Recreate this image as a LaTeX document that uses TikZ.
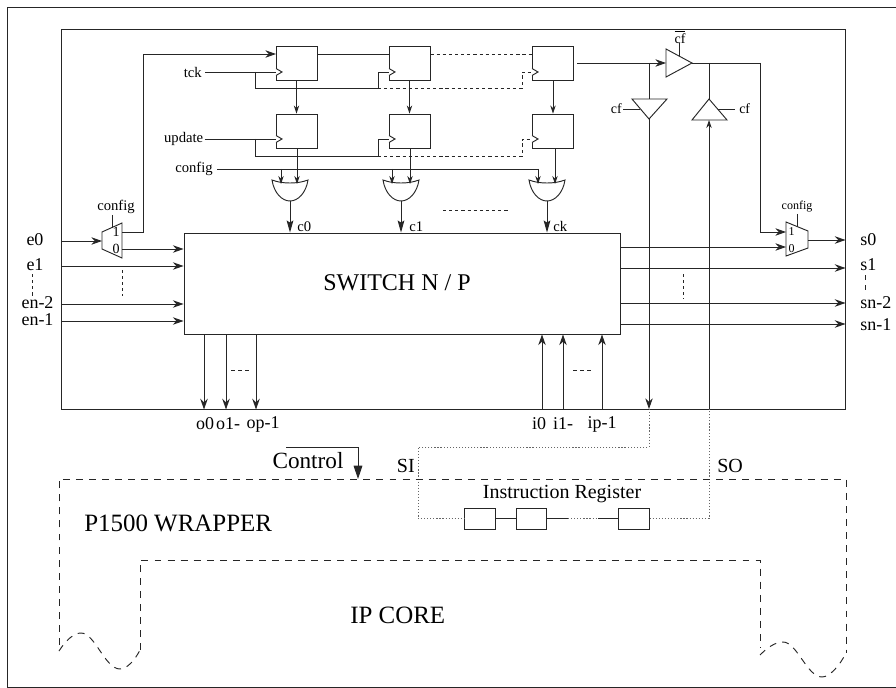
\documentclass[tikz,border=0pt]{standalone}
\usepackage{fontspec}
\setmainfont{Liberation Serif}
\usetikzlibrary{arrows.meta}
\newcommand{\fsz}[1]{\fontsize{#1}{#1}\selectfont}
\newcommand{\orgate}[1]{\begin{scope}[shift={(#1,180)}]\draw[wire] (0,0) .. controls (10,4) and (26,4) .. (36,0) .. controls (34,13) and (26,21) .. (18,21) .. controls (10,21) and (2,13) .. (0,0) -- cycle;\end{scope}}
\newcommand{\clk}[2]{\draw[wire,fill=white] (#1,#2-3.5) -- (#1+6,#2) -- (#1,#2+3.5);}
\tikzset{
  x=0.75pt,y=-0.75pt,
  wire/.style={line width=0.7pt,black!85},
  arr/.style={wire,-{Stealth[length=8pt,width=5.6pt,inset=2.6pt]}},
  sarr/.style={wire,-{Stealth[length=6pt,width=4pt,inset=2pt]}},
  farr/.style={wire,-{Stealth[length=9pt,width=5pt,inset=1.5pt]}},
  carr/.style={wire,-{Stealth[length=10pt,width=6.5pt,inset=0pt]}},
  ffbox/.style={draw=black!85,line width=0.7pt,minimum width=30.75pt,minimum height=25.5pt,inner sep=0pt},
  irbox/.style={draw=black!85,line width=0.7pt,minimum width=22.75pt,minimum height=15.75pt,inner sep=0pt},
  lab/.style={inner sep=0pt,text=black},
  dsh/.style={wire,dash pattern=on 2.4pt off 2.2pt},
  wdsh/.style={wire,dash pattern=on 5.2pt off 4.6pt},
  dot/.style={wire,dash pattern=on 0.9pt off 1.4pt,black!60},
}
\begin{document}
\begin{tikzpicture}
\useasboundingbox (0,0) rectangle (896,688);
\fill[white] (0,0) rectangle (896,688);
% frame
\coordinate (fa) at (896,7);\coordinate (fb) at (7.5,7);\coordinate (fc) at (7.5,687);\coordinate (fd) at (896,687);
\draw[wire] (fa) -- (fb) -- (fc) -- (fd);
% main box
\node[draw=black!85,line width=0.7pt,minimum width=588pt,minimum height=285pt,inner sep=0pt] (main) at (453,219) {};
% switch
\node[draw=black!85,line width=0.7pt,minimum width=327pt,minimum height=75.75pt,inner sep=0pt] (sw) at (402,283.5) {};
\node[lab,font=\fsz{18}] (swt) at (397,283) {SWITCH N / P};
% flip flops
\node[ffbox] (fa1) at (296.5,63) {}; \node[ffbox] (fb1) at (296.5,131) {};
\node[ffbox] (fa2) at (409.5,63) {}; \node[ffbox] (fb2) at (409.5,131) {};
\node[ffbox] (fa3) at (553,63) {};   \node[ffbox] (fb3) at (553,131) {};
\coordinate (ca1) at (276,72); \coordinate (cb1) at (276,139);
\coordinate (ca2) at (389,72); \coordinate (cb2) at (389,139);
\coordinate (ca3) at (532,72); \coordinate (cb3) at (532,139);
% labels top left
\node[lab,font=\fsz{11},anchor=east] (tck) at (202,72) {tck};
\node[lab,font=\fsz{11},anchor=east] (upd) at (203.5,139) {update};
\node[lab,font=\fsz{11},anchor=east] (cfg) at (213,169) {config};
% left mux
\coordinate (ml1) at (102,232);\coordinate (ml2) at (122,223);\coordinate (ml3) at (122,258);\coordinate (ml4) at (102,249);
\draw[wire] (ml1) -- (ml2) -- (ml3) -- (ml4) -- cycle;
\coordinate (mlin) at (102,241);\coordinate (mlo1) at (122,232);\coordinate (mlo0) at (122,249);
\node[lab,font=\fsz{10.5}] (ml1t) at (116,232) {1};
\node[lab,font=\fsz{10.5}] (ml0t) at (116,249) {0};
\node[lab,font=\fsz{11}] (mlc) at (116,207) {config};
\coordinate (mlct) at (112,215);\coordinate (mlcb) at (112,227.5);
\draw[wire] (mlct) -- (mlcb);
% right mux
\coordinate (mr1) at (786,222);\coordinate (mr2) at (808,231);\coordinate (mr3) at (808,248);\coordinate (mr4) at (786,256);
\draw[wire] (mr1) -- (mr2) -- (mr3) -- (mr4) -- cycle;
\node[lab,font=\fsz{9}] (mr1t) at (791.5,232) {1};
\node[lab,font=\fsz{9}] (mr0t) at (791.5,249) {0};
\node[lab,font=\fsz{9}] (mrc) at (797,206.5) {config};
\coordinate (mrct) at (797,214);\coordinate (mrcb) at (797,226.5);
\draw[wire] (mrct) -- (mrcb);
% top path
\coordinate (t1) at (143,232);\coordinate (t2) at (143,54);\coordinate (fa1l) at (276,54);
\draw[wire] (mlo1) -- (t1) -- (t2);
\draw[arr] (t2) -- (fa1l);
% clocks
\coordinate (b1) at (255,72);\coordinate (b2) at (255,88);\coordinate (b3) at (378,88);\coordinate (b4) at (378,72);\coordinate (b5) at (522,88);\coordinate (b6) at (522,72);
\draw[wire] (tck.east) ++(3,0) -- (ca1);
\draw[wire] (b1) -- (b2) -- (b3) -- (b4) -- (ca2);
\draw[dsh] (b3) -- (b5) -- (b6) -- (ca3);
\coordinate (u1) at (255,139);\coordinate (u2) at (255,156);\coordinate (u3) at (378,156);\coordinate (u4) at (378,139);\coordinate (u5) at (522,156);\coordinate (u6) at (522,139);
\draw[wire] (upd.east) ++(1,0) -- (cb1);
\draw[wire] (u1) -- (u2) -- (u3) -- (u4) -- (cb2);
\draw[dsh] (u3) -- (u5) -- (u6) -- (cb3);
\clk{276}{72}\clk{389}{72}\clk{532}{72}\clk{276}{139}\clk{389}{139}\clk{532}{139}
% data chain
\draw[wire] (fa1.east|-0,54) -- (fa2.west|-0,54);
\draw[dsh] (fa2.east|-0,54) -- (fa3.west|-0,54);
\draw[sarr] (fa1.south) -- (fb1.north);
\draw[sarr] (fa2.south) -- (fb2.north);
\draw[sarr] (fa3.south) -- (fb3.north);
% gates
\orgate{272}\orgate{383}\orgate{529}
\coordinate (cs) at (217,169);\coordinate (ce) at (538,169);
\coordinate (g1a) at (281,184);\coordinate (g2a) at (392,184);\coordinate (g3a) at (538,184);
\coordinate (g1at) at (281,169);\coordinate (g2at) at (392,169);
\draw[wire] (cs) -- (ce);
\draw[sarr] (g1at) -- (g1a);
\draw[sarr] (g2at) -- (g2a);
\draw[sarr] (ce) -- (g3a);
\coordinate (g1b) at (297,184);\coordinate (g2b) at (410,184);\coordinate (g3b) at (555,184);
\draw[sarr] (fb1.south-|g1b) -- (g1b);
\draw[sarr] (fb2.south-|g2b) -- (g2b);
\draw[sarr] (fb3.south-|g3b) -- (g3b);
\coordinate (g1o) at (290,201);\coordinate (g2o) at (401,201);\coordinate (g3o) at (547,201);
\draw[farr] (g1o) -- (sw.north-|g1o);
\draw[farr] (g2o) -- (sw.north-|g2o);
\draw[farr] (g3o) -- (sw.north-|g3o);
\node[lab,font=\fsz{11},anchor=base west] (c0) at (297,231) {c0};
\node[lab,font=\fsz{11},anchor=base west] (c1) at (409,231) {c1};
\node[lab,font=\fsz{11},anchor=base west] (ck) at (553,231) {ck};
\coordinate (dga) at (443,210);\coordinate (dgb) at (510,210);
\draw[dsh] (dga) -- (dgb);
% left inputs
\coordinate (e0l) at (61,241);\coordinate (e1l) at (61,266);\coordinate (e2l) at (61,304);\coordinate (e3l) at (61,321);
\draw[arr] (e0l) -- (mlin);
\draw[arr] (mlo0) -- (sw.west|-mlo0);
\draw[arr] (e1l) -- (sw.west|-e1l);
\draw[arr] (e2l) -- (sw.west|-e2l);
\draw[arr] (e3l) -- (sw.west|-e3l);
\node[lab,font=\fsz{13.5}] (e0) at (35,240) {e0};
\node[lab,font=\fsz{13.5}] (e1) at (35,265) {e1};
\node[lab,font=\fsz{13.5}] (en2) at (37.5,303) {en-2};
\node[lab,font=\fsz{13.5}] (en1) at (37.5,320) {en-1};
\coordinate (dea) at (32,274);\coordinate (deb) at (32,297);\coordinate (dia) at (122,270);\coordinate (dib) at (122,296);
\draw[dsh] (dea) -- (deb);
\draw[wire,dash pattern=on 2pt off 2.5pt] (dia) -- (dib);
% right outputs
\coordinate (s0a) at (808,240);\coordinate (s1a) at (620,268);\coordinate (s2a) at (620,303);\coordinate (s3a) at (620,324);\coordinate (m0a) at (620,247);\coordinate (m0b) at (786,247);\coordinate (m1b) at (786,232);
\draw[arr] (m0a) -- (m0b);
\draw[arr] (s0a) -- (main.east|-s0a);
\draw[arr] (s1a) -- (main.east|-s1a);
\draw[arr] (s2a) -- (main.east|-s2a);
\draw[arr] (s3a) -- (main.east|-s3a);
\node[lab,font=\fsz{13.5},anchor=west] (s0) at (860,240) {s0};
\node[lab,font=\fsz{13.5},anchor=west] (s1) at (860,265) {s1};
\node[lab,font=\fsz{13.5},anchor=west] (sn2) at (860,303) {sn-2};
\node[lab,font=\fsz{13.5},anchor=west] (sn1) at (860,325) {sn-1};
\coordinate (dsa) at (865,275);\coordinate (dsb) at (865,293);\coordinate (dra) at (683,274);\coordinate (drb) at (683,299);
\draw[wire,dash pattern=on 4pt off 3.5pt] (dsa) -- (dsb);
\draw[wire,dash pattern=on 2pt off 2.5pt] (dra) -- (drb);
% bottom ports
\coordinate (o0) at (204,334);\coordinate (o1) at (226,334);\coordinate (op) at (256,334);
\draw[arr] (o0) -- (main.south-|o0);
\draw[arr] (o1) -- (main.south-|o1);
\draw[arr] (op) -- (main.south-|op);
\coordinate (i0) at (542,409);\coordinate (i1) at (563,409);\coordinate (ip) at (602,409);
\draw[arr] (i0) -- (sw.south-|i0);
\draw[arr] (i1) -- (sw.south-|i1);
\draw[arr] (ip) -- (sw.south-|ip);
\coordinate (doa) at (231,370);\coordinate (dob) at (251,370);\coordinate (dpa) at (573,370);\coordinate (dpb) at (594,370);
\draw[wire,dash pattern=on 3pt off 2.4pt] (doa) -- (dob);
\draw[wire,dash pattern=on 3pt off 2.4pt] (dpa) -- (dpb);
\node[lab,font=\fsz{13.5}] (lo0) at (205,424) {o0};
\node[lab,font=\fsz{13.5}] (lo1) at (228,424) {o1-};
\node[lab,font=\fsz{13.5}] (lop) at (263,424) {op-1};
\node[lab,font=\fsz{13.5}] (li0) at (539,424) {i0};
\node[lab,font=\fsz{13.5}] (li1) at (563,424) {i1-};
\node[lab,font=\fsz{13.5}] (lip) at (602,424) {ip-1};
% buffers
\coordinate (q0) at (577,63);\coordinate (q1) at (666,63);\coordinate (j1) at (649,63);
\draw[arr] (q0) -- (q1);
\coordinate (ta) at (666,49);\coordinate (tb) at (666,77);\coordinate (tc) at (692,63);
\draw[wire] (ta) -- (tb) -- (tc) -- cycle;
\coordinate (tct) at (679,43);\coordinate (tcb) at (679,56);
\draw[wire] (tct) -- (tcb);
\node[lab,font=\fsz{10.5}] (cfb) at (680,37) {$\overline{\mbox{cf}}$};
\coordinate (da) at (632,99);\coordinate (db) at (667,99);\coordinate (dc) at (649,119);\coordinate (dm) at (649,99);
\draw[wire] (j1) -- (dm);
\draw[wire] (da) -- (db) -- (dc) -- cycle;
\node[lab,font=\fsz{10.5},anchor=east] (cfl) at (622,108.5) {cf};
\coordinate (dcl) at (623,109);\coordinate (dcr) at (640,109);
\draw[wire] (dcl) -- (dcr);
\coordinate (dcb) at (649,409);
\draw[arr] (dc) -- (dcb);
\coordinate (ua) at (692,120);\coordinate (ub) at (727,120);\coordinate (uc) at (709,99);
\draw[wire] (ua) -- (ub) -- (uc) -- cycle;
\node[lab,font=\fsz{10.5},anchor=west] (cfr) at (739,109) {cf};
\coordinate (ucl) at (718,109);\coordinate (ucr) at (735,109);
\draw[wire] (ucl) -- (ucr);
\coordinate (j2) at (709,63);\coordinate (ot) at (760,63);\coordinate (ob) at (760,232);
\draw[wire] (tc) -- (ot);
\draw[wire] (j2) -- (uc);
\draw[arr] (ot) -- (ob) -- (m1b);
\coordinate (ubm) at (709,120);\coordinate (ubb) at (709,409);
\draw[sarr] (ubb) -- (ubm);
% instruction register
\node[irbox] (r1) at (480,518.5) {};
\node[irbox] (r2) at (531.5,518.5) {};
\node[irbox] (r3) at (634,518.5) {};
\coordinate (ra) at (568,518.5);\coordinate (rb) at (598,518.5);
\draw[wire] (r1) -- (r2);
\draw[wire] (r2) -- (ra);
\draw[dot] (ra) -- (rb);
\draw[wire] (rb) -- (r3);
\coordinate (si1) at (649,409);\coordinate (si2) at (649,447);\coordinate (si3) at (418,447);\coordinate (si4) at (418,518.5);
\draw[dot] (si1) -- (si2) -- (si3) -- (si4) -- (r1.west);
\coordinate (so1) at (709,518.5);\coordinate (so2) at (709,409);
\draw[dot] (r3.east) -- (so1) -- (so2);
\node[lab,font=\fsz{15}] (irt) at (562,494) {Instruction Register};
\node[lab,font=\fsz{15},anchor=east] (si) at (415,466) {SI};
\node[lab,font=\fsz{15},anchor=west] (so) at (717,466) {SO};
% wrapper and core
\coordinate (w1) at (59,645);\coordinate (w2) at (59,479);\coordinate (w3) at (846,479);\coordinate (w4) at (846,653);
\draw[wdsh] (w1) -- (w2) -- (w3) -- (w4);
\coordinate (k1) at (140,650);\coordinate (k2) at (140,560);\coordinate (k3) at (760,560);\coordinate (k4) at (760,648);
\draw[wdsh] (k1) -- (k2) -- (k3) -- (k4);
\draw[wdsh] (59,651) .. controls (66,640) and (74,633) .. (81,633) .. controls (95,633) and (105,669) .. (120,669) .. controls (127,669) and (135,660) .. (k1);
\draw[wdsh] (760,655) .. controls (767,648) and (775,642) .. (783,642) .. controls (797,642) and (807,677) .. (822,677) .. controls (830,677) and (840,665) .. (846,653);
\coordinate (cta) at (286,447);\coordinate (ctb) at (358,447);\coordinate (ctc) at (358,479);
\draw[wire] (cta) -- (ctb);
\draw[carr] (ctb) -- (ctc);
\node[lab,font=\fsz{17.4}] (ctl) at (308,461) {Control};
\node[lab,font=\fsz{18.7},anchor=west] (wrp) at (84,523) {P1500 WRAPPER};
\node[lab,font=\fsz{18.7},anchor=west] (ipc) at (350,615) {IP CORE};
\end{tikzpicture}
\end{document}
